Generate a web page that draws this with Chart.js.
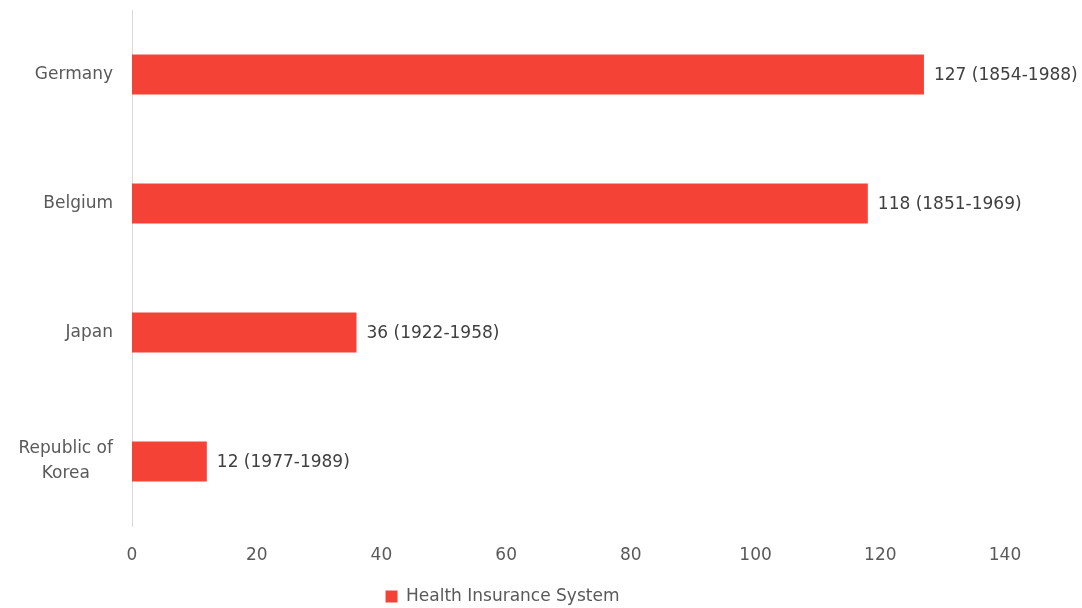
<!DOCTYPE html>
<html>
<head>
<meta charset="utf-8">
<script src="https://cdn.jsdelivr.net/npm/chart.js@4.4.1/dist/chart.umd.min.js"></script>
<style>
  html, body { margin: 0; padding: 0; background: #fff; }
  #wrap { width: 1082px; height: 608px; }
</style>
</head>
<body>
<div id="wrap"><canvas id="chart" width="1082" height="608"></canvas></div>
<script>
const countries = ['Germany', 'Belgium', 'Japan', ['Republic of', 'Korea']];
const years = [127, 118, 36, 12];
const startYear = [1854, 1851, 1922, 1977];
const endYear = [1988, 1969, 1958, 1989];
const xTicks = [0, 20, 40, 60, 80, 100, 120, 140];
const seriesName = 'Health Insurance System';

const FONT = "'DejaVu Sans', sans-serif";
const SIZE = 17;

// writes "value (start-end)" just past the end of each bar
const barLabels = {
  id: 'barLabels',
  afterDatasetsDraw(chart) {
    const ctx = chart.ctx;
    const meta = chart.getDatasetMeta(0);
    ctx.save();
    ctx.font = SIZE + 'px ' + FONT;
    ctx.fillStyle = '#404040';
    ctx.textAlign = 'left';
    ctx.textBaseline = 'middle';
    meta.data.forEach((bar, i) => {
      const txt = years[i] + ' (' + startYear[i] + '-' + endYear[i] + ')';
      ctx.fillText(txt, bar.x + 10, bar.y + 1);
    });
    ctx.restore();
  }
};

// category names, multi-line ones centred on their widest line
const categoryLabels = {
  id: 'categoryLabels',
  afterDraw(chart) {
    const ctx = chart.ctx;
    const y = chart.scales.y;
    const right = y.right - 19;
    const lineH = 25;
    ctx.save();
    ctx.font = SIZE + 'px ' + FONT;
    ctx.fillStyle = '#595959';
    ctx.textBaseline = 'middle';
    countries.forEach((name, i) => {
      const lines = Array.isArray(name) ? name : [name];
      const widest = Math.max(...lines.map(l => ctx.measureText(l).width));
      const cy = y.getPixelForTick(i);
      ctx.textAlign = 'center';
      lines.forEach((l, k) => {
        const ly = cy + (k - (lines.length - 1) / 2) * lineH;
        ctx.fillText(l, right - widest / 2, ly);
      });
    });
    ctx.restore();
  }
};

new Chart(document.getElementById('chart'), {
  type: 'bar',
  data: {
    labels: countries,
    datasets: [{
      label: seriesName,
      data: years,
      backgroundColor: '#F44336',
      borderWidth: 0,
      categoryPercentage: 0.8,
      barPercentage: 0.39
    }]
  },
  options: {
    indexAxis: 'y',
    responsive: false,
    animation: false,
    layout: { padding: { top: 10, right: 77, bottom: -7, left: 0 } },
    scales: {
      x: {
        min: 0,
        max: 140,
        afterBuildTicks: (scale) => { scale.ticks = xTicks.map(v => ({ value: v })); },
        grid: { display: false, drawTicks: false },
        border: { display: false },
        ticks: { color: '#595959', font: { family: FONT, size: SIZE }, padding: 19 },
        afterFit: (scale) => {
          scale.height = 62;
          scale.paddingLeft = 0;
          scale.paddingRight = 0;
        }
      },
      y: {
        grid: { display: false, drawTicks: false },
        border: { display: true, color: '#d9d9d9', width: 1 },
        ticks: { display: false },
        afterFit: (scale) => {
          scale.width = 132;
          scale.paddingTop = 0;
          scale.paddingBottom = 0;
        }
      }
    },
    plugins: {
      legend: {
        position: 'bottom',
        labels: {
          color: '#595959',
          font: { family: FONT, size: SIZE },
          boxWidth: 12,
          boxHeight: 12,
          padding: 0
        }
      },
      tooltip: { enabled: false }
    }
  },
  plugins: [barLabels, categoryLabels]
});
</script>
</body>
</html>
